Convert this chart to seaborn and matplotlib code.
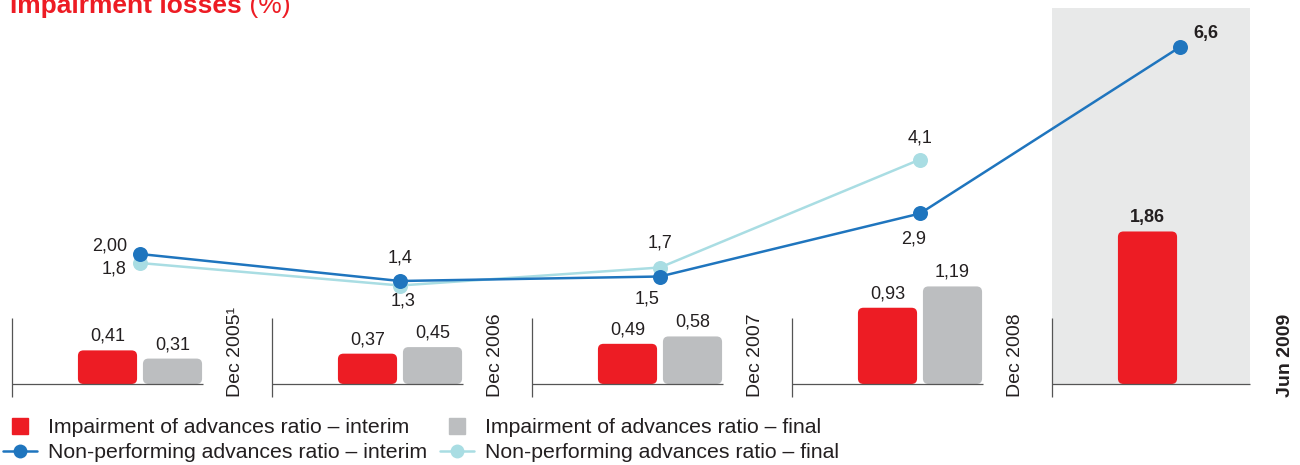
import numpy as np
import pandas as pd
import matplotlib
matplotlib.use("Agg")
import matplotlib.pyplot as plt
import seaborn as sns
from matplotlib.patches import FancyBboxPatch
from matplotlib.lines import Line2D

# ---- data -------------------------------------------------------------
periods = ["Dec 2005¹", "Dec 2006", "Dec 2007", "Dec 2008", "Jun 2009"]
impairment_interim = [0.41, 0.37, 0.49, 0.93, 1.86]
impairment_final = [0.31, 0.45, 0.58, 1.19, np.nan]
npl_interim = [2.00, 1.4, 1.5, 2.9, 6.6]
npl_final = [1.8, 1.3, 1.7, 4.1, np.nan]
npl_interim_decimals = [2, 1, 1, 1, 1]
npl_final_decimals = [1, 1, 1, 1, 1]
series_names = [
    "Impairment of advances ratio – interim",
    "Impairment of advances ratio – final",
    "Non-performing advances ratio – interim",
    "Non-performing advances ratio – final",
]
title_main = "Impairment losses"
title_unit = " (%)"
highlight = 4  # latest period, shaded and in bold

# ---- style --------------------------------------------------------------
RED = "#ED1C24"
GREY = "#BCBEC0"
BLUE = "#1F75BE"
CYAN = "#A9DDE3"
SHADE = "#E8E9E9"
INK = "#231F20"
RULE = "#555555"

sns.set_theme(style="white")
plt.rcParams["font.family"] = ["Liberation Sans", "DejaVu Sans"]

W, H = 1300, 465
fig = plt.figure(figsize=(W / 100, H / 100), dpi=100)
ax = fig.add_axes([0, 0, 1, 1])

# pixel geometry of the layout
SLOT = 260.0        # px per period
X0 = 140.0          # px of first period centre
BAR_BASE = 81.0     # px from bottom of bar baseline
BAR_SCALE = 82.0    # px per percentage point (bars)
LINE_BASE = 121.0   # px from bottom of zero for lines
LINE_SCALE = 45.0   # px per percentage point (lines)

def fmt(v, d):
    return f"{v:.{d}f}".replace(".", ",")

# ---- bars ---------------------------------------------------------------
bars = pd.DataFrame({
    "period": periods * 2,
    "series": [series_names[0]] * len(periods) + [series_names[1]] * len(periods),
    "value": impairment_interim + impairment_final,
})
sns.barplot(data=bars, x="period", y="value", hue="series",
            palette=[RED, GREY], width=0.5, gap=0.09, saturation=1,
            errorbar=None, legend=False, ax=ax)

ax.set_xlim(-X0 / SLOT, (W - X0) / SLOT)
ax.set_ylim(-BAR_BASE / BAR_SCALE, (H - BAR_BASE) / BAR_SCALE)
ax.set_axis_off()

# value labels on bars
for ci, cont in enumerate(ax.containers):
    labels = [fmt(p.get_height(), 2) for p in cont.patches]
    texts = ax.bar_label(cont, labels=labels, padding=4, fontsize=13,
                         color=INK)
    if ci == 0:
        texts[highlight].set_fontweight("bold")

# rounded versions of the bars
aspect = SLOT / BAR_SCALE
r = 5.5 / SLOT
for p in list(ax.patches):
    x, y = p.get_x(), p.get_y()
    w, h = p.get_width(), p.get_height()
    if not np.isfinite(h) or h == 0:
        continue
    rb = FancyBboxPatch((x, y), w, h,
                        boxstyle=f"round,pad=0,rounding_size={r}",
                        mutation_aspect=aspect, fc=p.get_facecolor(),
                        ec="none", zorder=3)
    ax.add_patch(rb)
    p.set_visible(False)

# panel frames, baselines and period labels
px_y = lambda top_px: (H - top_px - BAR_BASE) / BAR_SCALE
for i, lab in enumerate(periods):
    left = i - 128 / SLOT
    right = i + (70 if i == highlight else 63) / SLOT
    if i == highlight:
        ax.fill_between([left, right], 0, px_y(8), color=SHADE, lw=0, zorder=0)
    ax.vlines(left, px_y(397), px_y(318), color=RULE, lw=0.9, zorder=4)
    ax.hlines(0, left, right, color=RULE, lw=0.9, zorder=4)
    ax.text(right + (35 if i == highlight else 32) / SLOT, px_y(397), lab,
            rotation=90, ha="center", va="bottom", fontsize=14, color=INK,
            fontweight="bold" if i == highlight else "normal")

# ---- lines --------------------------------------------------------------
ax2 = ax.twinx()
ax2.set_ylim(-LINE_BASE / LINE_SCALE, (H - LINE_BASE) / LINE_SCALE)
ax2.set_axis_off()
idx = np.arange(len(periods))
sns.lineplot(x=idx, y=npl_final, color=CYAN, lw=1.8, marker="o",
             markersize=10.8, markeredgewidth=0, sort=False, ax=ax2)
sns.lineplot(x=idx, y=npl_interim, color=BLUE, lw=1.8, marker="o",
             markersize=10.8, markeredgewidth=0, sort=False, ax=ax2)
ax2.set_xlim(ax.get_xlim())

final_offsets = [(-26, -6), (3, -16), (0, 25), (0, 22)]
interim_offsets = [(-30, 8), (0, 23), (-13, -22), (-6, -25), (26, 13)]
for i, (v, d) in enumerate(zip(npl_interim, npl_interim_decimals)):
    ax2.annotate(fmt(v, d), (i, v), xytext=interim_offsets[i],
                 textcoords="offset pixels", ha="center", va="center",
                 fontsize=13, color=INK,
                 fontweight="bold" if i == highlight else "normal")
for i, (v, d) in enumerate(zip(npl_final, npl_final_decimals)):
    if np.isnan(v):
        continue
    ax2.annotate(fmt(v, d), (i, v), xytext=final_offsets[i],
                 textcoords="offset pixels", ha="center", va="center",
                 fontsize=13, color=INK)

# ---- legend -------------------------------------------------------------
handles = [
    Line2D([], [], ls="none", marker="s", markersize=11.5, color=RED),
    Line2D([], [], color=BLUE, lw=1.8, marker="o", markersize=10,
           markeredgewidth=0),
    Line2D([], [], ls="none", marker="s", markersize=11.5, color=GREY),
    Line2D([], [], color=CYAN, lw=1.8, marker="o", markersize=10,
           markeredgewidth=0),
]
labels = [series_names[0], series_names[2], series_names[1], series_names[3]]
fig.legend(handles, labels, ncol=2, loc="upper left",
           bbox_to_anchor=(3 / W, 1 - 418 / H), frameon=False, fontsize=15.3,
           handlelength=1.6, handletextpad=0.52, columnspacing=0.6,
           labelspacing=0.29, borderpad=0, borderaxespad=0,
           labelcolor=INK)

# ---- title (partly above the canvas) ---------------------------------
t1 = fig.text(10 / W, 1 - 13 / H, title_main, fontsize=19, fontweight="bold",
              color=RED, va="baseline", ha="left")
ax.annotate(title_unit, xy=(1, 0), xycoords=t1, va="bottom", ha="left",
            fontsize=19, color=RED, annotation_clip=False)

fig.savefig("out.png", dpi=100)
